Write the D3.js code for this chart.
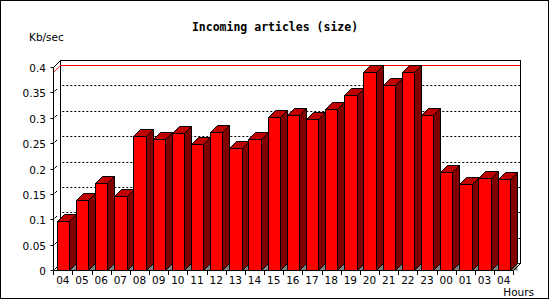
<!DOCTYPE html>
<html>
<head>
<meta charset="utf-8">
<script src="https://cdn.jsdelivr.net/npm/d3@7"></script>
<style>
  html, body { margin: 0; padding: 0; background: #fff; }
  svg { display: block; }
  text { font-family: "DejaVu Sans", sans-serif; }
</style>
</head>
<body>
<svg id="chart" width="550" height="300"></svg>
<script>
const hours = ["04","05","06","07","08","09","10","11","12","13","14","15","16","17","18","19","20","21","22","23","00","01","03","04"];
const sizeValues = [0.097,0.137,0.171,0.145,0.264,0.259,0.269,0.248,0.271,0.240,0.259,0.301,0.305,0.297,0.317,0.344,0.390,0.364,0.390,0.305,0.194,0.169,0.181,0.179];
const yTicks = [0,0.05,0.1,0.15,0.2,0.25,0.3,0.35,0.4];
const yTickLabels = ["0","0.05","0.1","0.15","0.2","0.25","0.3","0.35","0.4"];
const titleText = "Incoming articles (size)";
const yUnitText = "Kb/sec";
const xUnitText = "Hours";

(function () {
const svg = d3.select("#chart");
const W = 550, H = 300;
const pLeft = 53.3, pRight = 513.3, pBottom = 270, pTop = 67;
const dx = 7, dy = 7;

const x = d3.scaleBand().domain(d3.range(hours.length)).range([pLeft, pRight]).padding(0);
const y = d3.scaleLinear().domain([0, 0.4]).range([pBottom, pTop]);
const bw = x.bandwidth() * 0.64;
const bOff = (x.bandwidth() - bw) / 2;

svg.append("rect").attr("x", 0).attr("y", 0).attr("width", W).attr("height", H).attr("fill", "#fff");

// back wall
svg.append("rect").attr("x", Math.round(pLeft + dx) + 0.5).attr("y", Math.round(pTop - dy) + 0.5)
  .attr("width", Math.round(pRight - pLeft)).attr("height", Math.round(pBottom - pTop))
  .attr("fill", "#fff").attr("stroke", "#000").attr("stroke-width", 1);

// dashed gridlines on back wall
const g = svg.append("g");
yTicks.filter(t => t > 0 && t < 0.4).forEach(t => {
  const yy = Math.round(y(t) - dy) + 0.5;
  g.append("line").attr("x1", pLeft + dx + 2).attr("x2", pRight + dx)
    .attr("y1", yy).attr("y2", yy)
    .attr("stroke", "#000").attr("stroke-dasharray", "2,2");
});

// max line (red) 3D
const maxV = d3.max(sizeValues);
const my = Math.round(y(maxV));
svg.append("path")
  .attr("d", `M${pLeft},${my + 0.5} L${pLeft + dx},${my - dy + 0.5} L${pRight + dx},${my - dy + 0.5}`)
  .attr("fill", "none").attr("stroke", "#ff0000").attr("stroke-width", 1);

// bars
const bars = svg.append("g");
sizeValues.forEach((v, i) => {
  const x0 = Math.round(x(i) + bOff) + 0.5;
  const x1 = Math.round(x(i) + bOff + bw) + 0.5;
  const yt = Math.round(y(v)) + 0.5;
  const yb = pBottom + 0.5;
  bars.append("path")
    .attr("d", `M${x1},${yb} L${x1 + dx},${yb - dy} L${x1 + dx},${yb} Z`)
    .attr("fill", "#808080");
  bars.append("path")
    .attr("d", `M${x1},${yt} L${x1 + dx},${yt - dy} L${x1 + dx},${yb - dy} L${x1},${yb} Z`)
    .attr("fill", "#800000").attr("stroke", "#000").attr("stroke-width", 1);
  bars.append("path")
    .attr("d", `M${x0},${yt} L${x0 + dx},${yt - dy} L${x1 + dx},${yt - dy} L${x1},${yt} Z`)
    .attr("fill", "#c00000").attr("stroke", "#000").attr("stroke-width", 1);
  bars.append("rect").attr("x", x0).attr("y", yt).attr("width", x1 - x0).attr("height", yb - yt)
    .attr("fill", "#ff0000").attr("stroke", "#000").attr("stroke-width", 1);
});

// frame lines
const frame = svg.append("g").attr("stroke", "#000").attr("fill", "none");
const fl = Math.round(pLeft) + 0.5;
frame.append("path").attr("d", `M${fl},${pBottom + 0.5} L${fl},${pTop + 0.5} L${fl + dx},${pTop - dy + 0.5}`);
frame.append("path").attr("d", `M${fl},${pBottom + 0.5} L${Math.round(pRight) + 0.5},${pBottom + 0.5} L${Math.round(pRight) + dx + 0.5},${pBottom - dy + 0.5}`);

// y ticks
yTicks.forEach((t, i) => {
  const yy = Math.round(y(t)) + 0.5;
  frame.append("line").attr("x1", fl - 3).attr("x2", fl).attr("y1", yy).attr("y2", yy);
  frame.append("line").attr("x1", fl + 1).attr("x2", fl + 3.5).attr("y1", yy - 1).attr("y2", yy - 3.5);
  svg.append("text").attr("x", 46).attr("y", yy + 4)
    .attr("text-anchor", "end").attr("font-size", "10.5px").attr("fill", "#000")
    .text(yTickLabels[i]);
});

// x ticks
d3.range(hours.length + 1).forEach(i => {
  const xx = Math.round(pLeft + i * x.step()) + 0.5;
  frame.append("line").attr("x1", xx).attr("x2", xx).attr("y1", pBottom + 1).attr("y2", pBottom + 5);
});
hours.forEach((h, i) => {
  svg.append("text").attr("x", x(i) + x.bandwidth() / 2).attr("y", 284)
    .attr("text-anchor", "middle").attr("font-size", "10.5px").attr("fill", "#000")
    .text(h);
});

// titles
svg.append("text").attr("x", 275).attr("y", 31).attr("text-anchor", "middle")
  .style("font-family", "'DejaVu Sans Mono', monospace").attr("font-weight", "bold")
  .attr("font-size", "11.5px").attr("fill", "#000").text(titleText);
svg.append("text").attr("x", 29).attr("y", 41).attr("font-size", "10.5px").attr("fill", "#000").text(yUnitText);
svg.append("text").attr("x", 534).attr("y", 296).attr("text-anchor", "end").attr("font-size", "10.5px").attr("fill", "#000").text(xUnitText);

// outer border
svg.append("rect").attr("x", 0.5).attr("y", 0.5).attr("width", 548).attr("height", 298)
  .attr("fill", "none").attr("stroke", "#000").attr("stroke-width", 1);
})();
</script>
</body>
</html>
